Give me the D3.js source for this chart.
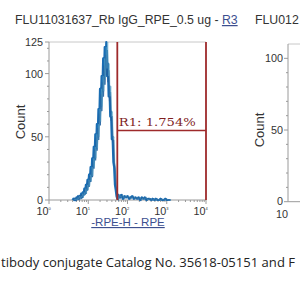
<!DOCTYPE html>
<html><head><meta charset="utf-8">
<script src="https://cdn.jsdelivr.net/npm/d3@7"></script>
<style>html,body{margin:0;padding:0;background:#fff;overflow:hidden}</style>
</head><body>
<svg id="c" width="300" height="300"></svg>
<script>
// ---------- data ----------
const titleMain = "FLU11031637_Rb IgG_RPE_0.5 ug - ";
const titleLink = "R3";
const title2 = "FLU012";
const xLabel = "-RPE-H - RPE";
const yLabel = "Count";
const caption = "tibody conjugate Catalog No. 35618-05151 and F";
const gateLabel = "R1: 1.754%";
const xDecades = [0, 1, 2, 3, 4];
const yTicks = [0, 50, 100, 125];
const yMinor = [10, 20, 30, 40, 60, 70, 80, 90, 110, 120];
const y2Ticks = [0, 50, 100];
const y2Minor = [10, 20, 30, 40, 60, 70, 80, 90];
// histogram: log10 intensity and counts
const histLog = [0.60,0.62,0.64,0.66,0.68,0.70,0.72,0.74,0.76,0.78,0.80,0.82,0.84,0.86,0.88,0.90,0.92,0.94,0.96,0.98,
  1.00,1.02,1.04,1.06,1.08,1.10,1.12,1.14,1.16,1.18,1.20,1.22,1.24,1.26,1.28,1.30,1.32,1.34,1.36,1.38,
  1.40,1.42,1.44,1.46,1.48,1.50,1.52,1.54,1.56,1.58,1.60,1.62,1.64,1.66,1.68,1.70,1.72,1.74,1.76,
  1.80,1.84,1.88,1.92,1.96,2.00,2.04,2.08,2.12,2.16,2.20,2.24,2.28,2.32,2.36,2.40,2.44,2.48,2.52,2.56,
  2.60,2.64,2.68,2.72,2.76,2.80,2.84,2.88,2.92,2.96,3.00,3.04,3.08];
const histCount = [0,1,0,1,0,2,1,3,1,3,2,5,2,6,4,9,5,12,8,16,
  11,20,15,26,19,33,26,42,33,52,41,60,50,72,62,88,74,98,86,112,
  96,121,104,125,98,108,82,90,66,70,48,50,30,26,12,8,3,1,4,
  2,4,1,3,2,3,1,2,3,1,2,1,2,0,2,1,2,0,1,1,
  0,1,0,1,0,0,1,0,0,1,0,0,0];
const gateLow = 55, gateHigh = 10000, gateLevel = 55;

// ---------- drawing ----------
const svg = d3.select("#c");
const gray = "#9a9a9a", txt = "#333", red = "#9e2a2b", blue = "#1a6db3";
const sans = "Liberation Sans, Arial, sans-serif";
const x = d3.scaleLog().domain([1, 10000]).range([49, 206]);
const y = d3.scaleLinear().domain([0, 125]).range([200, 42]);

// titles
const t = svg.append("text").attr("x", 15).attr("y", 24)
  .attr("font-family", sans).attr("font-size", 12.3).attr("fill", txt);
t.append("tspan").text(titleMain);
t.append("tspan").text(titleLink).attr("fill", "#3d4f8f").attr("text-decoration", "underline");
svg.append("text").attr("x", 255).attr("y", 24).attr("font-family", sans)
  .attr("font-size", 12.3).attr("fill", txt).text(title2);

// frame
svg.append("line").attr("x1", 49).attr("x2", 206).attr("y1", 42).attr("y2", 42).attr("stroke", "#c8c8c8");
svg.append("line").attr("x1", 49).attr("x2", 49).attr("y1", 42).attr("y2", 200).attr("stroke", gray);
svg.append("line").attr("x1", 49).attr("x2", 206).attr("y1", 200).attr("y2", 200).attr("stroke", gray);

// y ticks
const gy = svg.append("g");
gy.selectAll("line.maj").data(yTicks).join("line").attr("class","maj")
  .attr("x1", 45).attr("x2", 49).attr("y1", d => y(d)).attr("y2", d => y(d)).attr("stroke", gray);
gy.selectAll("line.min").data(yMinor).join("line").attr("class","min")
  .attr("x1", 47).attr("x2", 49).attr("y1", d => y(d)).attr("y2", d => y(d)).attr("stroke", gray);
gy.selectAll("text").data(yTicks).join("text")
  .attr("x", 43).attr("y", d => y(d) + 4).attr("text-anchor", "end")
  .attr("font-family", sans).attr("font-size", 10.8).attr("fill", txt).text(d => d);
svg.append("text").attr("transform", "translate(25,122) rotate(-90)").attr("text-anchor", "middle")
  .attr("font-family", sans).attr("font-size", 13).attr("fill", txt).text(yLabel);

// x ticks
const gx = svg.append("g");
const minorVals = [];
xDecades.slice(0, -1).forEach(d => { for (let k = 2; k <= 9; k++) minorVals.push(k * Math.pow(10, d)); });
gx.selectAll("line.maj").data(xDecades).join("line").attr("class","maj")
  .attr("x1", d => x(Math.pow(10, d))).attr("x2", d => x(Math.pow(10, d)))
  .attr("y1", 200).attr("y2", 204).attr("stroke", gray);
gx.selectAll("line.min").data(minorVals).join("line").attr("class","min")
  .attr("x1", d => x(d)).attr("x2", d => x(d)).attr("y1", 200).attr("y2", 202).attr("stroke", gray);
const xl = gx.selectAll("text").data(xDecades).join("text")
  .attr("x", d => x(Math.pow(10, d)) - 12.5).attr("y", 215)
  .attr("font-family", sans).attr("font-size", 10.8).attr("fill", txt);
xl.append("tspan").text("10");
xl.append("tspan").attr("dy", -5).attr("font-size", 4).text(d => d);

svg.append("text").attr("x", 128).attr("y", 226).attr("text-anchor", "middle")
  .attr("font-family", sans).attr("font-size", 11.5)
  .attr("fill", "#3d4f8f").attr("text-decoration", "underline").text(xLabel);

// histogram
const pts = histLog.map((v, i) => [Math.pow(10, v), histCount[i]]);
svg.append("path").datum(pts)
  .attr("d", d3.line().x(d => x(d[0])).y(d => y(d[1])))
  .attr("fill", "none").attr("stroke", blue).attr("stroke-width", 2.2).attr("stroke-linejoin", "round");
svg.append("path").datum(pts)
  .attr("d", d3.line().x(d => x(d[0]) + 1).y(d => y(d[1] * 0.95)))
  .attr("fill", "none").attr("stroke", "#1f5f9e").attr("stroke-width", 1.4).attr("opacity", 0.9);
svg.append("path").datum(pts)
  .attr("d", d3.line().x(d => x(d[0]) + 1.5).y(d => y(d[1])))
  .attr("fill", "none").attr("stroke", "#5aa5c8").attr("stroke-width", 0.6).attr("opacity", 0.7);

// gate
svg.append("line").attr("x1", x(gateLow)).attr("x2", x(gateLow)).attr("y1", 42).attr("y2", 200)
  .attr("stroke", red).attr("stroke-width", 1.8);
svg.append("line").attr("x1", x(gateHigh)).attr("x2", x(gateHigh)).attr("y1", 42).attr("y2", 200)
  .attr("stroke", red).attr("stroke-width", 1.8);
svg.append("line").attr("x1", x(gateLow)).attr("x2", x(gateHigh)).attr("y1", y(gateLevel)).attr("y2", y(gateLevel))
  .attr("stroke", red).attr("stroke-width", 1.5);
svg.append("text").attr("x", x(gateLow) + 1.5).attr("y", y(gateLevel) - 4)
  .attr("font-family", "DejaVu Serif, serif").attr("font-size", 11.5)
  .attr("fill", "#7f1f1f").attr("textLength", 77).attr("lengthAdjust", "spacingAndGlyphs").text(gateLabel);

// second panel (partial)
const y2 = d3.scaleLinear().domain([0, 110]).range([201.7, 44]);
svg.append("line").attr("x1", 288).attr("x2", 300).attr("y1", 44).attr("y2", 44).attr("stroke", "#c8c8c8");
svg.append("line").attr("x1", 288).attr("x2", 288).attr("y1", 44).attr("y2", 201.7).attr("stroke", gray);
svg.append("line").attr("x1", 288).attr("x2", 300).attr("y1", 201.7).attr("y2", 201.7).attr("stroke", gray);
const g2 = svg.append("g");
g2.selectAll("line.maj").data(y2Ticks).join("line").attr("class","maj")
  .attr("x1", 284).attr("x2", 288).attr("y1", d => y2(d)).attr("y2", d => y2(d)).attr("stroke", gray);
g2.selectAll("line.min").data(y2Minor).join("line").attr("class","min")
  .attr("x1", 286).attr("x2", 288).attr("y1", d => y2(d)).attr("y2", d => y2(d)).attr("stroke", gray);
g2.selectAll("text").data(y2Ticks).join("text")
  .attr("x", 283).attr("y", d => y2(d) + 3.5).attr("text-anchor", "end")
  .attr("font-family", sans).attr("font-size", 10.8).attr("fill", txt).text(d => d);
svg.append("text").attr("transform", "translate(264,130) rotate(-90)").attr("text-anchor", "middle")
  .attr("font-family", sans).attr("font-size", 13).attr("fill", txt).text(yLabel);
svg.append("text").attr("x", 276).attr("y", 218)
  .attr("font-family", sans).attr("font-size", 10.8).attr("fill", txt).text("10");

// caption
svg.append("text").attr("x", 1).attr("y", 267)
  .attr("font-family", "Open Sans, Noto Sans, sans-serif").attr("font-size", 12.6).attr("fill", "#222")
  .attr("textLength", 294).attr("lengthAdjust", "spacingAndGlyphs").text(caption);
</script>
</body></html>
